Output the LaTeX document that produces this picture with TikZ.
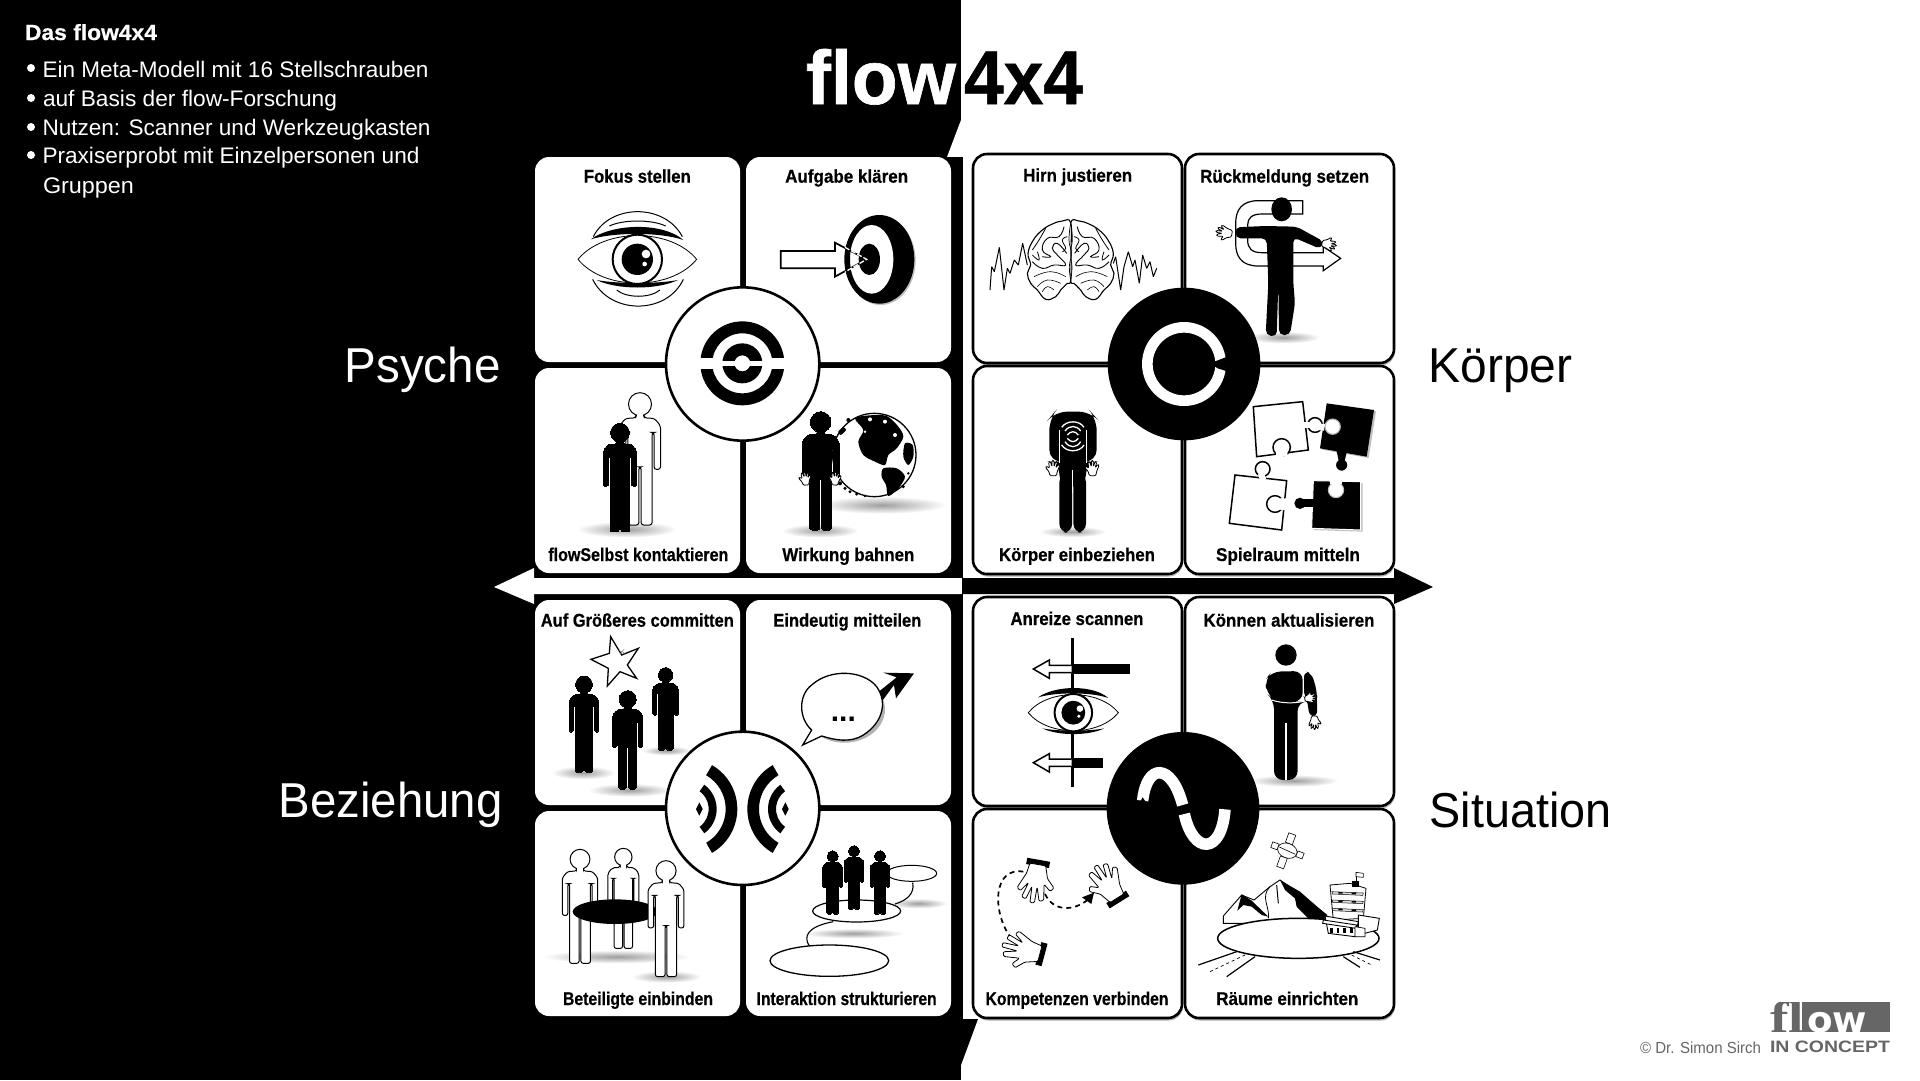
\documentclass[tikz,border=0pt]{standalone}
\usepackage{fontspec}
\usepackage{graphicx}
\setmainfont{Liberation Sans}
\newfontfamily\heavyf[BoldFeatures={FakeBold=0.6}]{Liberation Sans}
\newfontfamily\titlef[BoldFeatures={FakeBold=0.8}]{Liberation Sans}
\usetikzlibrary{calc}
\definecolor{logogrey}{HTML}{666666}
\newcommand\fitw[2]{\resizebox{#1pt}{\height}{#2}}
\tikzset{
  txt/.style={inner sep=0pt,outer sep=0pt,anchor=base west},
  labtxt/.style={inner sep=0pt,outer sep=0pt,anchor=base,font=\heavyf\bfseries\fontsize{18.5}{20}\selectfont,text=black},
  cardL/.style={fill=white,rounded corners=14pt},
  cardR/.style={fill=white,draw=black,line width=2.6pt,rounded corners=14pt},
  cardS/.style={fill=black!30,rounded corners=14pt},
  z1/.style={shift={(520,140)},x=0.33333pt,y=-0.33333pt},
  z2/.style={shift={(950,140)},x=0.33333pt,y=-0.33333pt},
  z3/.style={shift={(520,590)},x=0.33333pt,y=-0.33333pt},
  z4/.style={shift={(950,590)},x=0.33333pt,y=-0.33333pt},
}
% soft shadow
\newcommand\gsh[4]{\shade[inner color=black!38,outer color=white] (#1,#2) ellipse [x radius=#3,y radius=#4];}
% person: x, top y, height, fill, draw, line width (pt)
\newcommand\persona[6]{%
  \pgfmathsetmacro\uu{#3/300}%
  \begin{scope}[shift={(#1,#2)},x=\uu pt,y=-\uu pt]
    \path[fill=#4,draw=#5,line width=#6pt,rounded corners=2*\uu pt]
      (-3,16)--(-3,19)--(-11,19.5)--(-15.5,25)--(-15.5,58)--(-10.6,58)--(-10.6,30)--(-9.2,30)
      --(-9.2,100)--(-0.8,100)--(-0.8,56)--(0.8,56)--(0.8,100)--(9.2,100)--(9.2,30)--(10.6,30)
      --(10.6,58)--(15.5,58)--(15.5,25)--(11,19.5)--(3,19)--(3,16)--cycle;
    \path[fill=#4,draw=#5,line width=#6pt] (0,8.7) circle [radius=8.7];
    \fill[#4] (-2.6,15) rectangle (2.6,20);
  \end{scope}}
% hand: x, y, rotation, scale
\newcommand\handg[4]{%
  \begin{scope}[shift={(#1,#2)},rotate=#3,scale=#4]
    \draw[fill=white,line width=0.8pt,rounded corners=1.2pt,line join=round]
      (-20,36)--(-30,5)--(-50,-15)--(-42,-25)--(-24,-10)--(-30,-50)--(-19,-54)--(-8,-20)--(-8,-60)--(3,-61)--(5,-20)
      --(15,-54)--(26,-50)--(15,-12)--(32,-36)--(41,-29)--(24,10)--(20,36)--cycle;
  \end{scope}}
\newcommand\handc[4]{%
  \begin{scope}[shift={(#1,#2)},rotate=#3,scale=#4]
    \fill[black] (-29,32) rectangle (29,48);
  \end{scope}\handg{#1}{#2}{#3}{#4}}
% eye in local coordinates
\newcommand\eyeg[3]{%
  \begin{scope}[shift={(#1,#2)},scale=#3]
    \draw[fill=white,line width=0.8pt] (-178,0) .. controls (-100,-95) and (100,-95) .. (178,0) .. controls (100,95) and (-100,95) .. (-178,0);
    \fill[black] (-140,-60) .. controls (-70,-110) and (80,-110) .. (138,-58) .. controls (70,-82) and (-70,-82) .. cycle;
    \fill[black] (-122,62) .. controls (-60,92) and (60,92) .. (122,62) .. controls (60,74) and (-60,74) .. cycle;
    \draw[fill=white,line width=2pt] (0,0) circle [radius=74];
    \fill[black] (0,0) circle [radius=47];
    \fill[white] (26,-16) circle [radius=13] (22,14) circle [radius=7];
  \end{scope}}
\begin{document}
\begin{tikzpicture}[x=1pt,y=-1pt]
\useasboundingbox (0,0) rectangle (1920,1080);
% ---------- background
\fill[white] (0,0) rectangle (1920,1080);
\fill[black] (0,0) rectangle (961,1080);
\fill[white] (961,120) -- (947,157) -- (961,157) -- cycle;
\fill[black] (947,157) rectangle (963,578);
\fill[black] (950,594) rectangle (963,1019);
\fill[black] (955,1019) -- (978,1019) -- (961,1065) -- (955,1065) -- cycle;
% ---------- central arrows
\fill[white] (494,587) -- (534,568) -- (534,578) -- (961,578) -- (961,594) -- (534,594) -- (534,604) -- cycle;
\fill[black] (1433,587) -- (1394,568) -- (1394,578) -- (962,578) -- (962,594) -- (1394,594) -- (1394,604) -- cycle;
% ---------- cards left
\fill[cardL] (535,157) rectangle (740,362);
\fill[cardL] (746,157) rectangle (951,362);
\fill[cardL] (535,368) rectangle (740,573);
\fill[cardL] (746,368) rectangle (951,573);
\fill[cardL] (535,600) rectangle (740,805);
\fill[cardL] (746,600) rectangle (951,805);
\fill[cardL] (535,811) rectangle (740,1016);
\fill[cardL] (746,811) rectangle (951,1016);
% ---------- cards right
\foreach \a/\b/\c/\d in {973/154/1182/363,1185/154/1394/363,973/366/1182/574,1185/366/1394/574,973/597/1182/806,1185/597/1394/806,973/809/1182/1018,1185/809/1394/1018}{
  \fill[cardS] (\a+1,\b+2) rectangle (\c+1,\d+2.5);}
\path[cardR] (973,154) rectangle (1182,363);
\path[cardR] (1185,154) rectangle (1394,363);
\path[cardR] (973,366) rectangle (1182,574);
\path[cardR] (1185,366) rectangle (1394,574);
\path[cardR] (973,597) rectangle (1182,806);
\path[cardR] (1185,597) rectangle (1394,806);
\path[cardR] (973,809) rectangle (1182,1018);
\path[cardR] (1185,809) rectangle (1394,1018);
% ========== PSYCHE icons
\begin{scope}[z1]
  % Fokus stellen
  \eyeg{352}{358}{1}
  \draw[line width=1pt] (220,290) .. controls (270,190) and (435,190) .. (487,290);
  \draw[line width=1pt] (268,258) .. controls (310,238) and (395,238) .. (437,258);
  \draw[line width=1pt] (218,418) .. controls (270,525) and (440,525) .. (490,418);
  \draw[line width=1pt] (290,450) .. controls (320,475) and (390,475) .. (420,450);
  % Aufgabe klaeren
  \fill[black!25] (1082,362) ellipse [x radius=105,y radius=133];
  \fill[black] (1078,358) ellipse [x radius=105,y radius=133];
  \fill[white] (1055,358) ellipse [x radius=65,y radius=103];
  \fill[black] (1048,358) ellipse [x radius=32,y radius=47];
  \draw[fill=white,line width=1.7pt] (782,333)--(945,333)--(945,308)--(1040,358)--(945,410)--(945,385)--(782,385)--cycle;
  \begin{scope}
    \clip (782,333)--(945,333)--(945,308)--(1040,358)--(945,410)--(945,385)--(782,385)--cycle;
    \fill[black,even odd rule] (1078,358) ellipse [x radius=105,y radius=133] (1055,358) ellipse [x radius=65,y radius=103];
    \fill[black] (1048,358) ellipse [x radius=32,y radius=47];
  \end{scope}
  \draw[white,line width=1.3pt,dash pattern=on 5pt off 2pt] (975,322)--(1040,358)--(975,396);
  % flowSelbst kontaktieren
  \gsh{320}{1168}{150}{24}
  \persona{360}{758}{397}{white}{black}{1}
  \persona{300}{850}{325}{black}{black}{0}
  % Wirkung bahnen
  \gsh{900}{1172}{115}{20}
  \gsh{1085}{1095}{195}{26}
  \draw[fill=white,line width=1.3pt] (1063,945) circle [radius=125];
  \fill[black] plot[smooth cycle] coordinates {(1005,835)(1050,826)(1100,828)(1135,860)(1150,890)(1130,925)(1105,945)(1095,975)(1065,965)(1030,945)(1015,905)(1030,870)};
  \fill[black] plot[smooth cycle] coordinates {(1090,985)(1130,985)(1155,1010)(1135,1045)(1105,1068)(1098,1035)(1085,1010)};
  \fill[black] plot[smooth cycle] coordinates {(955,875)(970,862)(978,870)(962,885)};
  \fill[black] plot[smooth cycle] coordinates {(1155,910)(1178,915)(1180,950)(1165,975)(1150,950)};
  \foreach \p/\r in {(960,1030)/6,(975,1045)/5,(990,1055)/5,(1010,1062)/5,(1035,1068)/4,(1150,1040)/5,(1165,1000)/4,(985,840)/6}{\fill[black] \p circle [radius=\r];}
  \fill[white] (1050,838) circle [radius=6] (1095,845) circle [radius=6] (1125,885) circle [radius=6] (1035,875) circle [radius=4];
  \persona{902}{815}{355}{black}{black}{0}
  \handg{857}{1020}{5}{0.42}
  \handg{946}{1020}{-5}{0.42}
  % centre
  \draw[fill=white,line width=2.6pt] (668,672) circle [radius=230];
  \fill[black,even odd rule] (667,670) circle [radius=126] (667,670) circle [radius=90];
  \fill[white] (530,655) rectangle (805,688);
  \fill[black,even odd rule] (667,670) circle [radius=60] (667,670) circle [radius=24];
  \fill[white] (600,662) rectangle (735,679);
\end{scope}
% ========== KOERPER icons
\begin{scope}[z2]
  % brain waves
  \draw[line width=1pt,line join=bevel] (120,450)--(125,380)--(133,395)--(148,322)--(162,450)--(172,385)--(180,400)--(193,360)--(205,375)--(218,310)--(232,375);
  \draw[line width=1pt,line join=bevel] (490,370)--(497,350)--(512,450)--(522,380)--(535,335)--(548,380)--(555,360)--(568,430)--(578,345)--(590,385)--(600,365)--(610,410)--(620,385);
  \foreach \s in {1,-1}{
  \begin{scope}[shift={(362,0)},xscale=\s]
    \draw[fill=white,line width=1.1pt] plot[smooth cycle,tension=0.7] coordinates {(0,248)(25,243)(55,252)(85,270)(112,300)(128,340)(120,375)(130,400)(120,430)(100,450)(75,478)(45,470)(30,450)(10,430)(0,420)(-1,330)};
    \draw[line width=0.7pt] plot[smooth,tension=0.8] coordinates {(0,250)(5,300)(-2,340)(4,380)(0,420)};
    \draw[line width=0.9pt] plot[smooth,tension=0.8] coordinates {(20,260)(35,290)(70,295)(85,330)(60,350)(85,350)};
    \draw[line width=0.9pt] plot[smooth,tension=0.8] coordinates {(12,340)(40,310)(55,325)(40,345)(15,375)(50,375)(85,385)(115,365)};
    \draw[line width=0.8pt] plot[smooth,tension=0.8] coordinates {(10,290)(25,300)(15,325)(25,335)};
    \draw[line width=0.6pt] plot[smooth,tension=0.8] coordinates {(15,410)(60,395)(110,410)};
    \draw[line width=0.6pt] plot[smooth,tension=0.8] coordinates {(30,430)(70,420)(100,440)};
    \draw[line width=0.6pt] plot[smooth,tension=0.8] coordinates {(50,450)(70,440)(85,455)};
    \draw[line width=0.8pt] plot[smooth,tension=0.8] coordinates {(75,265)(95,300)(115,330)};
    \draw[line width=0.8pt] plot[smooth,tension=0.8] coordinates {(100,335)(95,360)(115,345)};
  \end{scope}}
  % Rueckmeldung
  \gsh{1000}{592}{110}{18}
  \draw[fill=white,line width=1.2pt] (1058,182)--(925,182) .. controls (875,182) and (857,210) .. (857,250) -- (857,310) .. controls (857,350) and (875,378) .. (925,378) -- (1120,378) -- (1120,392) -- (1172,355) -- (1120,320) -- (1120,338) -- (935,338) .. controls (905,338) and (893,325) .. (893,300) -- (893,255) .. controls (893,235) and (905,222) .. (935,222) -- (1058,222) -- cycle;
  \fill[black] (995,208) ellipse [x radius=31,y radius=36];
  \fill[black,rounded corners=5pt] (855,262)--(945,258)--(1040,260)--(1122,305)--(1112,327)--(1030,292)--(1030,430)--(1035,490)--(1020,585)--(987,585)--(985,430)--(980,590)--(947,585)--(955,430)--(950,295)--(857,295)--cycle;
  \handg{828}{278}{80}{0.5}
  \handg{1132}{313}{-100}{0.45}
  % Koerper einbeziehen
  \gsh{368}{1175}{100}{16}
  \fill[black,rounded corners=12pt] (298,965)--(298,835)--(315,815)--(422,815)--(440,835)--(440,965)--(408,965)--(408,1040)--(328,1040)--(328,965)--cycle;
  \fill[black,rounded corners=9pt] (328,1000) rectangle (366.5,1178);
  \fill[black,rounded corners=9pt] (370,1000) rectangle (408,1178);
  \fill[white] (366.8,990) rectangle (369.8,1060);
  \draw[white,line width=0.9pt] (327,870)--(327,970) (409,870)--(409,970);
  \handg{310}{990}{0}{0.48}
  \handg{428}{990}{0}{0.48}
  \draw[white,line width=1.3pt] (335,862) .. controls (350,840) and (388,840) .. (402,862);
  \draw[white,line width=1.3pt] (345,873) .. controls (358,855) and (380,855) .. (392,873);
  \draw[white,line width=1.3pt] (352,885) .. controls (362,872) and (376,872) .. (385,885);
  \draw[white,line width=1.3pt] (335,915) .. controls (350,938) and (388,938) .. (402,915);
  \draw[white,line width=1.3pt] (345,905) .. controls (358,925) and (380,925) .. (392,905);
  \draw[white,line width=1.3pt] (352,895) .. controls (362,908) and (376,908) .. (385,895);
  % Puzzle
  \draw[fill=white,line width=1.5pt] (1095,855) circle [radius=22];
  \draw[fill=white,line width=1.5pt] (910,800)--(1058,785)--(1075,930)--(920,950)--cycle;
  \draw[white,line width=6pt] (1060,855)--(1080,855);
  \draw[fill=white,line width=1.5pt] (995,922) circle [radius=26];
  \draw[white,line width=8pt] (978,940)--(1012,937);
  \fill[black!25] (1136,794)--(1278,814)--(1256,954)--(1116,929)--cycle;
  \fill[black] (1130,790)--(1272,810)--(1250,950)--(1110,925)--cycle;
  \draw[fill=black,draw=white,line width=1.2pt] (1175,975) circle [radius=19];
  \fill[black] (1158,925)--(1192,930)--(1184,962)--(1166,962)--cycle;
  \draw[fill=white,draw=black!30,line width=1.1pt] (1148,860) circle [radius=23];
  \fill[white] (1105,850)--(1125,852)--(1122,872)--(1103,870)--cycle;
  \draw[fill=white,line width=1.5pt] (938,987) circle [radius=22];
  \draw[fill=white,line width=1.5pt] (855,1005)--(1010,1022)--(995,1170)--(838,1150)--cycle;
  \draw[white,line width=6pt] (932,1000)--(940,1020);
  \draw[fill=white,line width=1.5pt] (975,1092) circle [radius=25];
  \draw[white,line width=8pt] (1003,1075)--(1000,1110);
  \fill[black!25] (1096,1028)--(1238,1030)--(1238,1175)--(1091,1170)--cycle;
  \draw[fill=black,draw=white,line width=1pt] (1090,1022)--(1232,1025)--(1232,1170)--(1085,1165)--cycle;
  \fill[black] (1050,1090) circle [radius=17];
  \fill[black] (1060,1078) rectangle (1092,1102);
  \draw[fill=white,draw=black!25,line width=1pt] (1158,1050) circle [radius=23];
  \fill[white] (1140,1015) rectangle (1175,1033);
  % centre
  \fill[black] (702,672) circle [radius=229];
  \fill[white,even odd rule] (702,672) circle [radius=126] (702,672) circle [radius=94];
  \fill[black] (780,670)--(845,645)--(850,700)--(803,685)--cycle;
\end{scope}
% ========== BEZIEHUNG icons
\begin{scope}[z3]
  % Auf Groesseres
  \gsh{190}{548}{95}{20}
  \gsh{330}{600}{125}{20}
  \gsh{440}{482}{75}{14}
  \draw[fill=white,line width=1.3pt,line join=miter] (272,140)--(305,195)--(355,175)--(322,225)--(350,265)--(300,245)--(262,288)--(265,235)--(213,208)--(268,190)--cycle;
  \draw[black!50,line width=0.5pt] (295,180)--(315,190) (300,192)--(312,178);
  \persona{192}{258}{290}{black}{black}{0}
  \persona{437}{233}{247}{black}{black}{0}
  \persona{323}{302}{295}{black}{black}{0}
  % Eindeutig
  \fill[black!30] (973,358) ellipse [x radius=122,y radius=100];
  \fill[black] (1070,310)--(1130,262)--(1090,248)--(1182,250)--(1128,325)--(1122,285)--(1085,335)--cycle;
  \draw[fill=white,line width=1.3pt,line join=miter] (875,420) .. controls (835,385) and (835,315) .. (875,285) .. controls (930,235) and (1030,240) .. (1070,290) .. controls (1105,340) and (1085,400) .. (1030,435) .. controls (990,460) and (945,450) .. (905,438) -- (848,465) -- cycle;
  \node[inner sep=0pt,anchor=base,font=\bfseries\fontsize{30}{30}\selectfont] (dots) at (970,395) {...};
  % Beteiligte
  \gsh{290}{1100}{220}{20}
  \gsh{440}{1160}{105}{18}
  \persona{310}{775}{300}{white}{black}{1}
  \persona{180}{778}{342}{white}{black}{1}
  \fill[black] (285,965) ellipse [x radius=127,y radius=37];
  \persona{438}{812}{348}{white}{black}{1}
  % Interaktion
  \gsh{1000}{1030}{150}{15}
  \gsh{1195}{940}{88}{15}
  \draw[line width=1.1pt] (940,995) .. controls (860,1010) and (850,1040) .. (868,1068);
  \draw[line width=1.1pt] (1178,878) .. controls (1185,910) and (1160,932) .. (1125,942);
  \draw[fill=white,line width=1pt] (1175,850) ellipse [x radius=75,y radius=24];
  \draw[fill=white,line width=1.2pt] (1010,963) ellipse [x radius=132,y radius=33];
  \draw[fill=white,line width=1.3pt] (928,1112) ellipse [x radius=178,y radius=47];
  \persona{1002}{767}{190}{black}{black}{0}
  \persona{938}{782}{190}{black}{black}{0}
  \persona{1080}{782}{190}{black}{black}{0}
  % centre
  \draw[fill=white,line width=2.6pt] (668,655) circle [radius=230];
  \foreach \s in {1,-1}{
  \begin{scope}[shift={(667,657)},xscale=\s]
    \fill[black] ($(-167,0)+(-60:152)$) arc [start angle=-60,end angle=60,radius=152] -- ($(-167,0)+(60:117)$) arc [start angle=60,end angle=-60,radius=117] -- cycle;
    \fill[black] ($(-167,0)+(-54:90)$) arc [start angle=-54,end angle=54,radius=90] -- ($(-167,0)+(54:66)$) arc [start angle=54,end angle=-54,radius=66] -- cycle;
    \fill[black] (-129,-20)--(-119,0)--(-129,20)--(-139,0)--cycle;
  \end{scope}}
\end{scope}
% ========== SITUATION icons
\begin{scope}[z4]
  % Anreize
  \draw[line width=2.6pt] (368,145)--(368,590);
  \fill[black] (365,222) rectangle (540,252);
  \fill[black] (365,503) rectangle (458,533);
  \draw[fill=white,line width=1.5pt] (365,226)--(298,226)--(298,210)--(250,237)--(298,265)--(298,248)--(365,248);
  \draw[fill=white,line width=1.5pt] (365,507)--(298,507)--(298,491)--(250,518)--(298,546)--(298,529)--(365,529);
  \eyeg{370}{368}{0.76}
  % Koennen
  \gsh{1030}{572}{135}{18}
  \fill[black] (1008,195) circle [radius=32];
  \fill[black,rounded corners=9pt] (972,330)--(950,310)--(945,270)--(965,245)--(1058,243)--(1058,335)--(1043,335)--(1043,570)--(972,570)--cycle;
  \fill[white] (1006,400) rectangle (1010,570);
  \fill[black,rounded corners=6pt] (1062,243)--(1085,250)--(1100,300)--(1102,380)--(1078,380)--(1072,330)--(1062,320)--cycle;
  \draw[white,line width=1pt] (965,330) .. controls (1000,342) and (1040,340) .. (1070,332);
  \handg{1078}{325}{-80}{0.38}
  \handg{1093}{393}{180}{0.42}
  % Kompetenzen
  \draw[line width=1.7pt,dash pattern=on 5pt off 4pt] (220,845) .. controls (130,830) and (125,960) .. (180,1040);
  \draw[line width=1.7pt,dash pattern=on 5pt off 4pt] (285,912) .. controls (310,965) and (370,965) .. (415,928);
  \fill[black] (396,922)--(432,908)--(424,942)--cycle;
  \handc{256}{866}{170}{1.2}
  \handc{478}{888}{32}{1.2}
  \handc{228}{1080}{75}{1.2}
  % Raeume
  \draw[fill=white,line width=0.9pt] (820,978)--(875,915)--(912,930)--(960,890)--(990,870)--(1060,920)--(1130,975)--(1135,1000)--(820,1000)--cycle;
  \fill[black] (990,870)--(1050,905)--(1130,975)--(1115,1000)--(1075,985)--(1040,950)--(1035,925)--(1005,900)--cycle;
  \fill[black] (875,913)--(905,932)--(955,980)--(935,975)--(905,950)--(880,945)--(862,962)--cycle;
  \draw[line width=0.8pt] (960,890) .. controls (930,920) and (960,950) .. (955,985);
  \draw[line width=1pt] (980,885)--(985,940);
  \draw[fill=white,line width=1.5pt] (1045,1045) ellipse [x radius=242,y radius=60];
  \draw[line width=1.2pt] (745,1125)--(860,1085) (830,1160)--(915,1100) (1180,1100)--(1230,1132) (1290,1110)--(1210,1085);
  \draw[line width=0.7pt,dashed] (780,1145)--(885,1095) (1205,1095)--(1265,1125);
  % building
  \draw[fill=white,line width=0.8pt] (1140,885)--(1200,880)--(1248,895)--(1240,985)--(1150,990)--cycle;
  \foreach \y in {905,930,955}{\draw[fill=black!12,line width=0.5pt] (1146,\y)--(1240,\y+4)--(1238,\y+11)--(1148,\y+7)--cycle;
    \fill[black] (1165,\y+1) rectangle (1178,\y+6) (1205,\y+3) rectangle (1218,\y+8);}
  \draw[line width=0.8pt] (1218,885)--(1218,845);
  \draw[fill=white,line width=0.6pt] (1218,847)--(1240,850)--(1240,862)--(1218,860)--cycle;
  \fill[black] (1205,872) rectangle (1228,892);
  \draw[fill=white,line width=0.9pt] (1125,978)--(1225,995)--(1215,1040)--(1135,1030)--cycle;
  \draw[fill=white,line width=0.9pt] (1120,990)--(1220,1005)--(1218,1015)--(1118,1000)--cycle;
  \draw[fill=white,line width=0.9pt] (1225,975)--(1288,985)--(1282,1020)--(1225,1035)--cycle;
  \draw[fill=white,line width=0.7pt] (1215,1010)--(1245,1015)--(1245,1040)--(1215,1040)--cycle;
  \foreach \x in {1140,1160,1180,1200}{\fill[black] (\x,1015) rectangle (\x+8,1028);}
  % satellite
  \begin{scope}[shift={(1012,782)},rotate=-20]
    \draw[fill=white,line width=0.6pt] (0,0) ellipse [x radius=30,y radius=22];
    \draw[black,line width=0.6pt] (-26,-2)--(26,2);
    \draw[fill=white,line width=0.6pt] (-14,-22)--(-14,-52)--(8,-52)--(8,-22)--cycle;
    \draw[fill=white,line width=0.6pt] (-14,22)--(-14,55)--(8,55)--(8,22)--cycle;
    \draw[fill=white,line width=0.6pt] (30,-10)--(50,-10)--(50,8)--(30,8)--cycle;
    \draw[fill=white,line width=0.6pt] (-30,-10)--(-50,-10)--(-50,8)--(-30,8)--cycle;
  \end{scope}
  % centre
  \fill[black] (699,655) circle [radius=229];
  \draw[white,line width=11.5pt] (578,632) .. controls (590,518) and (665,518) .. (698,645);
  \draw[white,line width=11.5pt] (703,672) .. controls (730,795) and (815,795) .. (825,658);
  \fill[black] (568,640)--(578,622)--(590,640)--cycle;
\end{scope}
% ---------- text: titles
\node[txt,text=white,font=\titlef\bfseries\fontsize{76}{80}\selectfont] (titleA) at (806,104) {\fitw{150}{flow}};
\node[txt,text=black,font=\titlef\bfseries\fontsize{76}{80}\selectfont] (titleB) at (964,104) {\fitw{119}{4x4}};
% ---------- text: top left
\node[txt,text=white,font=\heavyf\bfseries\fontsize{22}{24}\selectfont] (intro) at (25,40) {\fitw{132}{Das flow4x4}};
\tikzset{intrtxt/.style={txt,text=white,font=\fontsize{22.5}{24}\selectfont}}
\fill[white] (31,68) circle [radius=4] (31,98) circle [radius=4] (31,127) circle [radius=4] (31,155) circle [radius=4];
\node[intrtxt] (l1) at (42.5,77) {\fitw{386}{Ein Meta-Modell mit 16 Stellschrauben}};
\node[intrtxt] (l2) at (43,106) {\fitw{294}{auf Basis der flow-Forschung}};
\node[intrtxt] (l3) at (42.5,135) {\fitw{388}{Nutzen: Scanner und Werkzeugkasten}};
\node[intrtxt] (l4) at (42.5,163) {\fitw{377}{Praxiserprobt mit Einzelpersonen und}};
\node[intrtxt] (l5) at (43,193) {\fitw{91}{Gruppen}};
% ---------- text: quadrant names
\tikzset{bigtxt/.style={txt,font=\fontsize{49}{52}\selectfont}}
\node[bigtxt,text=white] (psy) at (344.5,382) {\fitw{156}{Psyche}};
\node[bigtxt,text=white] (bez) at (278.5,817) {\fitw{224}{Beziehung}};
\node[bigtxt,text=black] (koe) at (1428.5,382) {\fitw{144}{Körper}};
\node[bigtxt,text=black] (sit) at (1429.5,827) {\fitw{182}{Situation}};
% ---------- text: card labels
\begin{scope}[z1]
  \node[labtxt] (a1) at (352,128) {\fitw{107}{Fokus stellen}};
  \node[labtxt] (a2) at (980,128) {\fitw{123}{Aufgabe klären}};
  \node[labtxt] (a3) at (355,1263) {\fitw{180}{flowSelbst kontaktieren}};
  \node[labtxt] (a4) at (985,1263) {\fitw{132}{Wirkung bahnen}};
\end{scope}
\begin{scope}[z2]
  \node[labtxt] (b1) at (383,125) {\fitw{109}{Hirn justieren}};
  \node[labtxt] (b2) at (1004,128) {\fitw{169}{Rückmeldung setzen}};
  \node[labtxt] (b3) at (381,1263) {\fitw{156}{Körper einbeziehen}};
  \node[labtxt] (b4) at (1014,1263) {\fitw{144}{Spielraum mitteln}};
\end{scope}
\begin{scope}[z3]
  \node[labtxt] (c1) at (352,110) {\fitw{193}{Auf Größeres committen}};
  \node[labtxt] (c2) at (982,110) {\fitw{148}{Eindeutig mitteilen}};
  \node[labtxt] (c3) at (354,1245) {\fitw{150}{Beteiligte einbinden}};
  \node[labtxt] (c4) at (980,1245) {\fitw{180}{Interaktion strukturieren}};
\end{scope}
\begin{scope}[z4]
  \node[labtxt] (d1) at (381,105) {\fitw{133}{Anreize scannen}};
  \node[labtxt] (d2) at (1017,110) {\fitw{171}{Können aktualisieren}};
  \node[labtxt] (d3) at (381,1245) {\fitw{183}{Kompetenzen verbinden}};
  \node[labtxt] (d4) at (1012,1245) {\fitw{142}{Räume einrichten}};
\end{scope}
% ---------- logo and copyright
\fill[logogrey] (1802,1002) rectangle (1890,1032);
\begin{scope}
  \clip (1770,1002) rectangle (1890,1032);
  \node[txt,text=logogrey,font=\fontspec{Liberation Serif}\bfseries\fontsize{44}{46}\selectfont] (logof) at (1770,1032) {\fitw{34}{fl}};
  \node[txt,text=white,font=\fontspec{DejaVu Sans}\bfseries\fontsize{36}{40}\selectfont] (logoo) at (1807,1032) {\fitw{60}{ow}};
\end{scope}
\node[txt,text=logogrey,font=\bfseries\fontsize{16.5}{18}\selectfont] (logoc) at (1770,1052) {\fitw{120}{IN CONCEPT}};
\node[txt,text=logogrey,font=\fontsize{16}{18}\selectfont] (copy) at (1640,1053) {\fitw{121}{© Dr. Simon Sirch}};
\end{tikzpicture}
\end{document}
